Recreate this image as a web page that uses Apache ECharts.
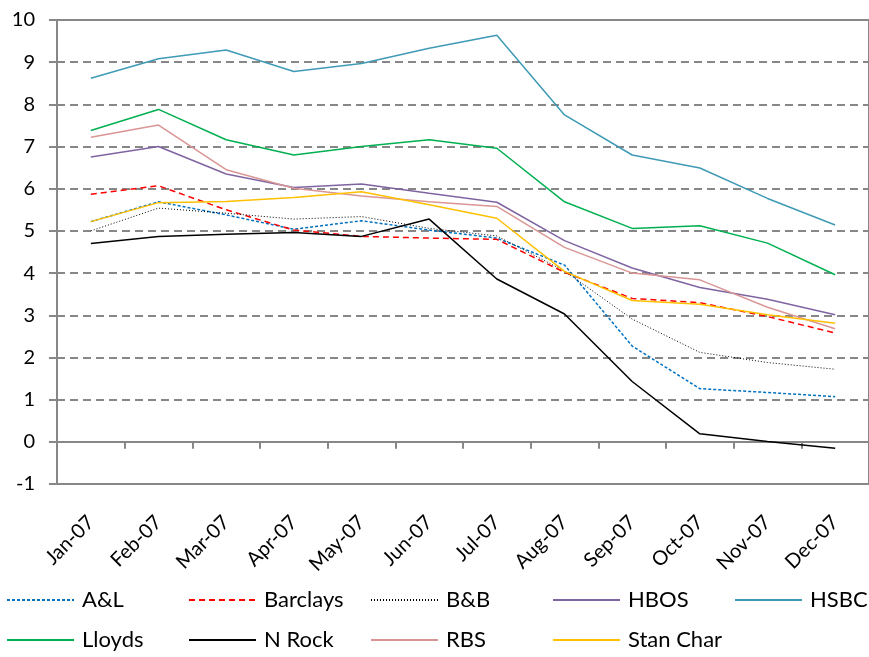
<!DOCTYPE html>
<html>
<head>
<meta charset="utf-8">
<script src="https://cdn.jsdelivr.net/npm/echarts@6/dist/echarts.min.js"></script>
<style>
  html, body { margin: 0; padding: 0; background: #fff; }
  #chart { width: 869px; height: 657px; }
</style>
</head>
<body>
<div id="chart"></div>
<script>
// months on the x axis
const months = ['Jan-07', 'Feb-07', 'Mar-07', 'Apr-07', 'May-07', 'Jun-07',
  'Jul-07', 'Aug-07', 'Sep-07', 'Oct-07', 'Nov-07', 'Dec-07'];

// values
const al = [5.22, 5.69, 5.38, 5.04, 5.24, 5.02, 4.83, 4.19, 2.27, 1.26, 1.17, 1.07];
const barclays = [5.87, 6.07, 5.50, 5.02, 4.87, 4.83, 4.80, 4.02, 3.40, 3.30, 2.97, 2.58];
const bb = [5.00, 5.54, 5.42, 5.28, 5.34, 5.06, 4.88, 4.05, 2.91, 2.12, 1.88, 1.72];
const hbos = [6.75, 7.00, 6.35, 6.03, 6.11, 5.89, 5.68, 4.77, 4.12, 3.66, 3.38, 3.01];
const hsbc = [8.62, 9.08, 9.29, 8.78, 8.97, 9.33, 9.64, 7.75, 6.80, 6.49, 5.77, 5.14];
const lloyds = [7.38, 7.88, 7.16, 6.80, 7.00, 7.16, 6.96, 5.69, 5.06, 5.12, 4.71, 3.96];
const nrock = [4.70, 4.87, 4.92, 4.96, 4.87, 5.28, 3.86, 3.03, 1.43, 0.19, 0.01, -0.15];
const rbs = [7.22, 7.51, 6.45, 6.01, 5.83, 5.69, 5.58, 4.61, 4.00, 3.84, 3.19, 2.68];
const stanChar = [5.22, 5.67, 5.70, 5.79, 5.93, 5.62, 5.30, 4.04, 3.35, 3.26, 3.01, 2.81];

const seriesDefs = [
  { name: 'A&L', data: al, color: '#0070C0', type: [3, 2], width: 1.5 },
  { name: 'Barclays', data: barclays, color: '#FF0000', type: [6, 4], width: 1.5 },
  { name: 'B&B', data: bb, color: '#000000', type: [1, 2], width: 1 },
  { name: 'HBOS', data: hbos, color: '#7F64A2', type: 'solid', width: 1.5 },
  { name: 'HSBC', data: hsbc, color: '#3F9AB6', type: 'solid', width: 1.5 },
  { name: 'Lloyds', data: lloyds, color: '#00B050', type: 'solid', width: 1.5 },
  { name: 'N Rock', data: nrock, color: '#000000', type: 'solid', width: 1.5 },
  { name: 'RBS', data: rbs, color: '#D99694', type: 'solid', width: 1.5 },
  { name: 'Stan Char', data: stanChar, color: '#FFC000', type: 'solid', width: 1.5 }
];

const font = 'Lato';
const gray = '#878787';

const chart = echarts.init(document.getElementById('chart'));

// one legend per item so the columns line up like the original
const legends = seriesDefs.map((s, i) => ({
  data: [s.name],
  left: 6 + (i % 5) * 182,
  top: i < 5 ? 589 : 629,
  itemWidth: 67,
  itemHeight: 16,
  itemGap: 0,
  padding: 0,
  itemStyle: { opacity: 0 },
  lineStyle: { width: 2 },
  textStyle: { fontFamily: font, fontSize: 22, color: '#000', padding: [0, 0, 0, 3] }
}));

const option = {
  animation: false,
  color: seriesDefs.map((s) => s.color),
  grid: {
    left: 57,
    top: 20,
    width: 823,
    height: 464,
    show: true,
    borderColor: gray,
    borderWidth: 2,
    backgroundColor: 'transparent'
  },
  legend: legends,
  xAxis: [
    {
      type: 'category',
      data: months,
      position: 'bottom',
      boundaryGap: true,
      axisLine: { onZero: true, lineStyle: { color: gray, width: 2 } },
      axisTick: { show: true, length: 7, lineStyle: { color: gray, width: 2 } },
      axisLabel: { show: false },
      splitLine: { show: false }
    },
    {
      type: 'category',
      data: months,
      position: 'bottom',
      boundaryGap: true,
      axisLine: { show: false, onZero: false },
      axisTick: { show: false },
      axisLabel: {
        rotate: 45,
        margin: 35,
        fontFamily: font,
        fontSize: 20,
        color: '#000',
        interval: 0
      },
      splitLine: { show: false }
    }
  ],
  yAxis: {
    type: 'value',
    min: -1,
    max: 10,
    interval: 1,
    axisLine: { show: true, lineStyle: { color: gray, width: 2 } },
    axisTick: { show: true, length: 8, lineStyle: { color: gray, width: 2 } },
    axisLabel: { margin: 22, fontFamily: font, fontSize: 20, color: '#000' },
    splitLine: { lineStyle: { color: gray, width: 2, type: [8, 5] } }
  },
  series: seriesDefs.map((s) => ({
    name: s.name,
    type: 'line',
    xAxisIndex: 0,
    data: s.data,
    symbol: 'none',
    smooth: false,
    lineStyle: { color: s.color, width: s.width, type: s.type },
    itemStyle: { color: s.color }
  }))
};

chart.setOption(option);
</script>
</body>
</html>
